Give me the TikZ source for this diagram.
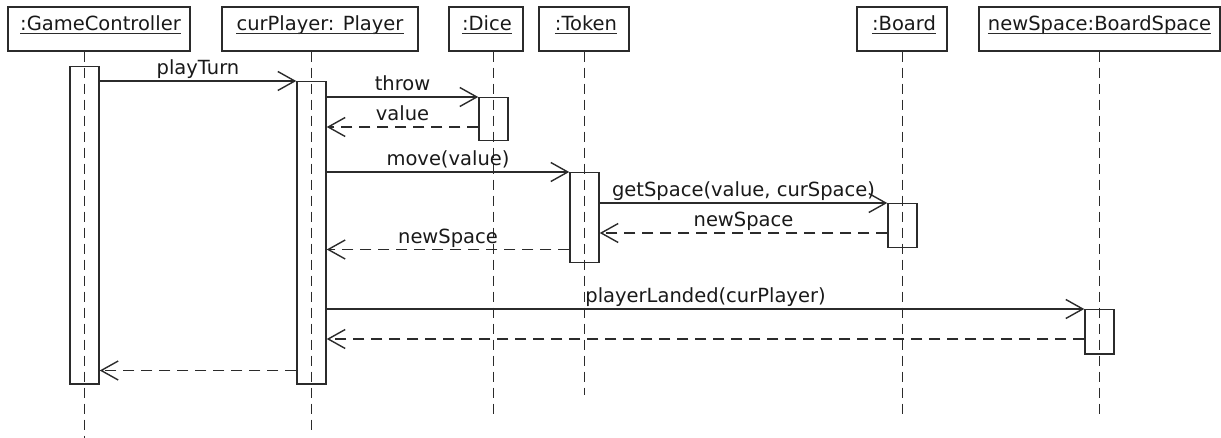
\documentclass[tikz,border=0pt]{standalone}
\usepackage{fontspec}
\setmainfont{DejaVu Sans}
\usetikzlibrary{arrows.meta}
\definecolor{ink}{HTML}{2B2B2B}
\begin{document}
\begin{tikzpicture}[x=1pt,y=-1pt,
  every node/.style={font=\fontsize{19.5}{23}\selectfont, text=black!90},
  hbox/.style={draw=ink, line width=1.6pt, minimum height=44pt, inner sep=0pt, anchor=north},
  htext/.style={anchor=base, inner sep=0pt},
  uline/.style={draw=ink, line width=1.1pt},
  act/.style={draw=ink, line width=1.5pt, minimum width=29pt, inner sep=0pt, anchor=north},
  life/.style={draw=ink, line width=1.5pt, dash pattern=on 10pt off 6pt},
  msg/.style={draw=ink, line width=1.5pt, -{Straight Barb[length=17pt,width=19pt,line width=1.4pt]}},
  ret/.style={msg, dash pattern=on 11pt off 7pt},
  lbl/.style={midway, anchor=base, yshift=6pt, inner sep=0pt}]
\useasboundingbox (0,0) rectangle (1221,438);

% header boxes
\node[hbox, minimum width=182pt] (gcH) at (99,6) {};
\node[hbox, minimum width=196pt] (pH) at (320,6) {};
\node[hbox, minimum width=74pt] (dH) at (486,6) {};
\node[hbox, minimum width=90pt] (tH) at (584,6) {};
\node[hbox, minimum width=90pt] (bH) at (902,6) {};
\node[hbox, minimum width=241pt] (sH) at (1099.5,6) {};

% header texts
\node[htext] (gcT) at (100.5,31) {:GameController};
\node[htext] (pT) at (320,31) {curPlayer: Player};
\node[htext] (dT) at (487,31) {:Dice};
\node[htext] (tT) at (586,31) {:Token};
\node[htext] (bT) at (904,31) {:Board};
\node[htext] (sT) at (1099.5,31) {newSpace:BoardSpace};
\foreach \t in {gcT,pT,dT,tT,bT,sT}
  \draw[uline] ([yshift=-2.5pt]\t.base west) -- ([yshift=-2.5pt]\t.base east);

% activation boxes
\node[act, minimum height=317pt] (gcA) at (84.5,66) {};
\node[act, minimum height=302pt] (pA) at (311.5,81) {};
\node[act, minimum height=43pt] (dA) at (493.5,97) {};
\node[act, minimum height=90pt] (tA) at (584.5,172) {};
\node[act, minimum height=44pt] (bA) at (902.5,203) {};
\node[act, minimum height=44pt] (sA) at (1099.5,309) {};

% lifeline ends
\coordinate (gcE) at (84.5,438);
\coordinate (pE) at (311.5,430);
\coordinate (dE) at (493.5,415);
\coordinate (tE) at (584.5,395);
\coordinate (bE) at (902.5,415);
\coordinate (sE) at (1099.5,415);

% lifelines
\draw[life] (gcA.north |- gcH.south) -- (gcE);
\draw[life] (pA.north |- pH.south) -- (pE);
\draw[life] (dA.north |- dH.south) -- (dE);
\draw[life] (tA.north |- tH.south) -- (tE);
\draw[life] (bA.north |- bH.south) -- (bE);
\draw[life] (sA.north |- sH.south) -- (sE);

% return start points
\coordinate (vS) at ([yshift=-30pt]dA.north west);
\coordinate (nsS) at ([yshift=-30pt]bA.north west);
\coordinate (ns2S) at ([yshift=14pt]tA.south west);
\coordinate (plS) at ([yshift=-30pt]sA.north west);
\coordinate (ptS) at ([yshift=14pt]pA.south west);

% messages
\draw[msg] (gcA.east |- pA.north west) -- node[lbl] {playTurn} (pA.north west);
\draw[msg] (pA.east |- dA.north west) -- node[lbl] {throw} (dA.north west);
\draw[ret] (vS) -- node[lbl] {value} (pA.east |- vS);
\draw[msg] (pA.east |- tA.north west) -- node[lbl] {move(value)} (tA.north west);
\draw[msg] (tA.east |- bA.north west) -- node[lbl] {getSpace(value, curSpace)} (bA.north west);
\draw[ret] (nsS) -- node[lbl] {newSpace} (tA.east |- nsS);
\draw[ret] (ns2S) -- node[lbl] {newSpace} (pA.east |- ns2S);
\draw[msg] (pA.east |- sA.north west) -- node[lbl] {playerLanded(curPlayer)} (sA.north west);
\draw[ret] (plS) -- (pA.east |- plS);
\draw[ret] (ptS) -- (gcA.east |- ptS);
\end{tikzpicture}
\end{document}
